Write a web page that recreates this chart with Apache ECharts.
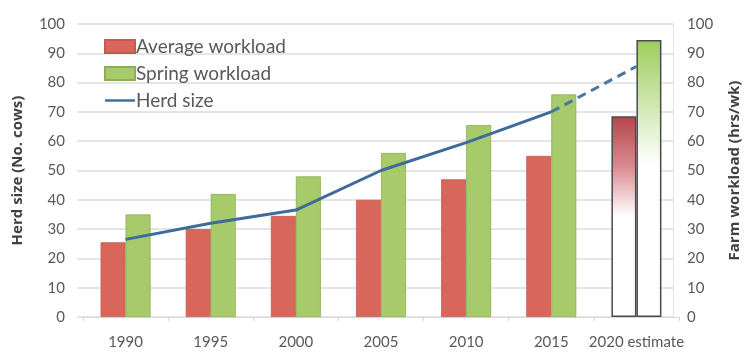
<!DOCTYPE html>
<html><head><meta charset="utf-8">
<script src="https://cdn.jsdelivr.net/npm/echarts@6/dist/echarts.min.js"></script>
<style>html,body{margin:0;padding:0;background:#fff}#c{width:750px;height:352px}</style>
</head><body><div id="c"></div>
<script>
const categories = ['1990','1995','2000','2005','2010','2015','2020 estimate'];
const averageWorkload = [25.5, 30, 34.5, 40, 47, 55, 68.5];
const springWorkload = [35, 42, 48, 56, 65.5, 76, 94.5];
const herdSize = [26.5, 32, 36.5, 50, 59.5, 70];
const herdSizeEstimate = 85.5;
const yTicks = { min: 0, max: 100, interval: 10 };

const textColor = '#595959';
const font = 'Lato';
const n = categories.length;
const last = n - 1;

const avgData = averageWorkload.map((v, i) => i === last ? {
  value: v,
  itemStyle: { color: { type: 'linear', x: 0, y: 0, x2: 0, y2: 1, colorStops: [
    { offset: 0, color: '#b3474b' }, { offset: 0.25, color: '#d98a91' }, { offset: 0.5, color: '#ffffff' }, { offset: 1, color: '#ffffff' }] },
    borderColor: '#4a4a4a', borderWidth: 1.5 }
} : v);
const springData = springWorkload.map((v, i) => i === last ? {
  value: v,
  itemStyle: { color: { type: 'linear', x: 0, y: 0, x2: 0, y2: 1, colorStops: [
    { offset: 0, color: '#9ccd5c' }, { offset: 0.45, color: '#ffffff' }, { offset: 1, color: '#ffffff' }] },
    borderColor: '#4a4a4a', borderWidth: 1.5 }
} : v);
const herdSolid = categories.map((c, i) => i < herdSize.length ? herdSize[i] : '-');
const herdDashed = categories.map((c, i) => i === herdSize.length - 1 ? herdSize[i] : (i === last ? herdSizeEstimate : '-'));

const chart = echarts.init(document.getElementById('c'), null, { renderer: 'canvas' });
chart.setOption({
  animation: false,
  backgroundColor: '#ffffff',
  textStyle: { fontFamily: font },
  grid: [
    { left: 77, right: 66, top: 24, bottom: 35 },
    { left: 83, right: 71, top: 24, bottom: 35 }
  ],
  legend: {
    orient: 'vertical', left: 99, top: 32, itemWidth: 30, itemHeight: 13, itemGap: 8,
    textStyle: { fontSize: 19, color: textColor, fontFamily: font, padding: [0, 0, 0, -4] },
    data: [
      { name: 'Average workload', icon: 'rect' },
      { name: 'Spring workload', icon: 'rect' },
      { name: 'Herd size', icon: 'path://M0,0H30V2.4H0Z' }
    ]
  },
  xAxis: [
    { gridIndex: 0, type: 'value', min: 0, max: 1, show: false },
    { gridIndex: 1, type: 'category', data: categories,
      axisLine: { lineStyle: { color: '#d9d9d9', width: 1 } },
      axisTick: { show: true, alignWithLabel: false, length: 4, lineStyle: { color: '#d9d9d9' } },
      axisLabel: { color: textColor, fontSize: 15, margin: 18, fontFamily: font, interval: 0 }
    }
  ],
  yAxis: [
    { gridIndex: 0, type: 'value', min: yTicks.min, max: yTicks.max, interval: yTicks.interval, position: 'left',
      name: 'Herd size (No. cows)', nameLocation: 'middle', nameGap: 52,
      nameTextStyle: { fontSize: 15, fontWeight: 'bold', color: '#404040', fontFamily: 'Open Sans' },
      axisLine: { show: false }, axisTick: { show: false },
      axisLabel: { color: textColor, fontSize: 15, margin: 12, fontFamily: font },
      splitLine: { lineStyle: { color: '#dcdcdc', width: 1.5 } } },
    { gridIndex: 0, type: 'value', min: yTicks.min, max: yTicks.max, interval: yTicks.interval, position: 'right',
      name: 'Farm workload (hrs/wk)', nameLocation: 'middle', nameGap: 54, nameRotate: 90,
      nameTextStyle: { fontSize: 15, fontWeight: 'bold', color: '#404040', fontFamily: 'Open Sans' },
      axisLine: { show: true, lineStyle: { color: '#e3e3e3' } }, axisTick: { show: false },
      axisLabel: { color: textColor, fontSize: 15, margin: 14, fontFamily: font },
      splitLine: { show: false } },
    { gridIndex: 1, type: 'value', min: yTicks.min, max: yTicks.max, interval: yTicks.interval, show: false, splitLine: { show: false } },
    { gridIndex: 1, type: 'value', min: yTicks.min, max: yTicks.max, interval: yTicks.interval, show: false, splitLine: { show: false } }
  ],
  series: [
    { name: 'Average workload', type: 'bar', xAxisIndex: 1, yAxisIndex: 3, data: avgData, barWidth: 25, barGap: '0%',
      itemStyle: { color: '#d9665b', borderColor: '#c55a50', borderWidth: 0.8 } },
    { name: 'Spring workload', type: 'bar', xAxisIndex: 1, yAxisIndex: 3, data: springData, barWidth: 25, barGap: '0%',
      itemStyle: { color: '#a7ca6a', borderColor: '#8cae55', borderWidth: 0.8 } },
    { name: 'Herd size', type: 'line', xAxisIndex: 1, yAxisIndex: 2, data: herdSolid, symbol: 'none',
      lineStyle: { color: '#3e6b99', width: 3 }, itemStyle: { color: '#3e6b99' }, z: 5 },
    { name: 'Herd size estimate', type: 'line', xAxisIndex: 1, yAxisIndex: 2, data: herdDashed, symbol: 'none',
      lineStyle: { color: '#4a76a3', width: 3, type: [9, 6] }, z: 5 }
  ]
});
</script></body></html>
